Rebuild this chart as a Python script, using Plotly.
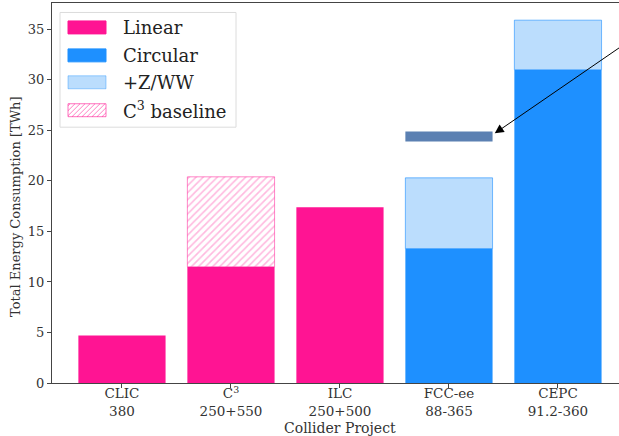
import plotly.graph_objects as go

# ---- data ----
categories = ["CLIC<br>380", "C<sup>3</sup><br>250+550", "ILC<br>250+500", "FCC-ee<br>88-365", "CEPC<br>91.2-360"]
cat_pos = [0, 1, 2, 3, 4]
linear_pos = [0, 1, 2]
linear_vals = [4.7, 11.5, 17.4]
c3_baseline_pos = [1]
c3_baseline_extra = [8.9]          # stacked on top of C3 (total ~20.4)
circular_pos = [3, 4]
circular_vals = [13.3, 31.0]
zww_extra = [7.0, 4.9]             # stacked on top (totals ~20.3, ~35.9)
fcc_alt_x = [2.6, 3.4]
fcc_alt_val = [24.4, 24.4]
yticks = [0, 5, 10, 15, 20, 25, 30, 35]

PINK = "#ff1493"
BLUE = "#1e90ff"
LIGHT = "#bbddfd"
FONT = "DejaVu Serif"

fig = go.Figure()
fig.add_trace(go.Bar(x=linear_pos, y=linear_vals, width=0.8, marker=dict(color=PINK, line=dict(width=0)), name="Linear"))
fig.add_trace(go.Bar(x=c3_baseline_pos, y=c3_baseline_extra, base=[linear_vals[1]], width=0.8,
                     marker=dict(color="white", line=dict(color="rgba(255,20,147,0.5)", width=1),
                                 pattern=dict(shape="/", size=5, solidity=0.32,
                                              fgcolor="rgba(255,20,147,0.6)", bgcolor="white")),
                     name="C3 baseline"))
fig.add_trace(go.Bar(x=circular_pos, y=circular_vals, width=0.8, marker=dict(color=BLUE, line=dict(width=0)), name="Circular"))
fig.add_trace(go.Bar(x=circular_pos, y=zww_extra, base=circular_vals, width=0.8,
                     marker=dict(color=LIGHT, line=dict(color="rgba(30,144,255,0.6)", width=1)), name="+Z/WW"))
fig.add_trace(go.Scatter(x=fcc_alt_x, y=fcc_alt_val, mode="lines", line=dict(color="#5b80b2", width=10), showlegend=False))

# arrow from outside the frame to the end of the FCC-ee alternative marker
fig.add_annotation(x=3.42, y=24.7, ax=4.85, ay=35.3, xref="x", yref="y", axref="x", ayref="y",
                   text="", showarrow=True, arrowhead=2, arrowsize=1.8, arrowwidth=1, arrowcolor="black",
                   standoff=0)

# ---- custom legend (pixel layout) ----
PL, PR, PT, PB = 52, 619, 2.5, 383.5
def px(x):
    return (x - PL) / (PR - PL)
def py(y):
    return (PB - y) / (PB - PT)

shapes = []
shapes.append(dict(type="rect", xref="paper", yref="paper", x0=px(60), x1=px(236), y0=py(127), y1=py(12),
                   line=dict(color="#dcdcdc", width=1), fillcolor="rgba(255,255,255,0.85)", layer="above"))
rows = [("Linear", 27, PINK, None), ("Circular", 55, BLUE, None),
        ("+Z/WW", 82, LIGHT, "rgba(30,144,255,0.4)"), ("C<sup>3</sup> baseline", 110, "white", "rgba(255,20,147,0.6)")]
sx0, sx1 = 68, 106
for label, yc, fill, edge in rows:
    y0, y1 = yc - 6.5, yc + 6.5
    shapes.append(dict(type="rect", xref="paper", yref="paper", x0=px(sx0), x1=px(sx1), y0=py(y1), y1=py(y0),
                       line=dict(color=edge if edge else fill, width=1), fillcolor=fill, layer="above"))
    fig.add_annotation(xref="paper", yref="paper", x=px(121), y=py(yc), xanchor="left", yanchor="middle",
                       text=label, showarrow=False, font=dict(family=FONT, size=18, color="#222"))
# hatch lines inside the last swatch ("/" lines: x + y = c in pixel coords)
hy0, hy1 = 110 - 6.5, 110 + 6.5
c = sx0 + hy0 + 2
while c < sx1 + hy1:
    pts = []
    for yy in (hy0, hy1):
        xx = c - yy
        if sx0 <= xx <= sx1:
            pts.append((xx, yy))
    for xx in (sx0, sx1):
        yy = c - xx
        if hy0 < yy < hy1:
            pts.append((xx, yy))
    if len(pts) >= 2:
        (xa, ya), (xb, yb) = pts[0], pts[1]
        shapes.append(dict(type="line", xref="paper", yref="paper", x0=px(xa), y0=py(ya), x1=px(xb), y1=py(yb),
                           line=dict(color="rgba(255,20,147,0.55)", width=1), layer="above"))
    c += 5

# axis titles as annotations for exact placement
fig.add_annotation(xref="paper", yref="paper", x=px(340), y=py(428.5), xanchor="center", yanchor="middle",
                   text="Collider Project", showarrow=False, font=dict(family=FONT, size=14, color="#333"))
fig.add_annotation(xref="paper", yref="paper", x=px(16), y=py(207), xanchor="center", yanchor="middle",
                   text="Total Energy Consumption [TWh]", textangle=-90, showarrow=False,
                   font=dict(family=FONT, size=13, color="#333"))

fig.update_layout(
    width=619, height=436,
    margin=dict(l=PL, r=0, t=2.5, b=436 - PB, autoexpand=False),
    barmode="overlay",
    showlegend=False,
    plot_bgcolor="white", paper_bgcolor="white",
    font=dict(family=FONT, size=13, color="#333"),
    shapes=shapes,
)
fig.update_xaxes(range=[-0.642, 4.56], tickvals=cat_pos, ticktext=categories,
                 showline=True, linecolor="#444", linewidth=1, mirror=True,
                 ticks="outside", ticklen=4, tickcolor="#444", showgrid=False, zeroline=False,
                 ticklabelstandoff=-6, tickfont=dict(size=13.5), automargin=False)
fig.update_yaxes(range=[0, 37.6], tickvals=yticks, showline=True, linecolor="#444", linewidth=1,
                 ticks="outside", ticklen=4, tickcolor="#444", showgrid=False, zeroline=False,
                 tickfont=dict(size=13), automargin=False)

fig.write_html("out.html", config={"displayModeBar": False},
               post_script="document.body.style.margin='0px';")
